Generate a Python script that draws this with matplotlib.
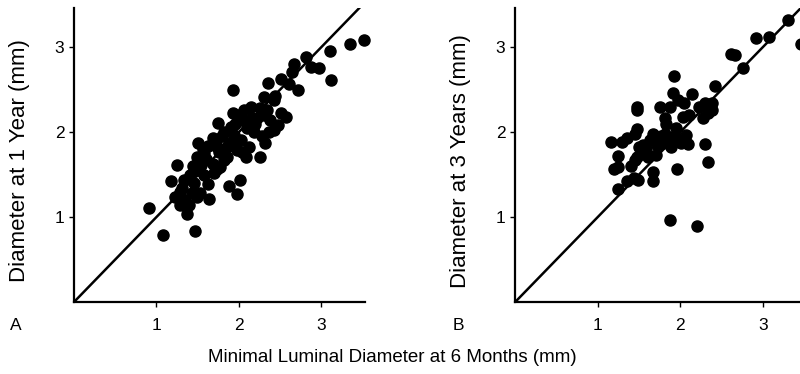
import matplotlib.pyplot as plt

plt.rcParams['font.family'] = ['Liberation Sans', 'DejaVu Sans']

# panel A: 6 months vs 1 year (mm)
a_x = [0.91, 1.08, 1.47, 1.25, 1.18, 1.23, 1.28, 1.37, 1.39, 1.43, 1.49, 1.53, 1.64, 1.63,
       1.31, 1.33, 1.41, 1.47, 1.49, 1.50, 1.62, 1.58, 1.54, 1.68, 1.70, 1.75, 1.74, 1.82,
       1.85, 1.86, 1.77, 1.88, 1.98, 2.01, 1.93, 1.93, 1.98, 2.04, 1.94, 1.94, 2.02, 1.98,
       2.04, 2.12, 2.09, 2.15, 2.16, 2.18, 2.26, 2.28, 2.32, 2.22, 2.26, 2.31, 2.35, 2.34,
       2.38, 2.42, 2.44, 2.36, 2.42, 2.48, 2.51, 2.57, 2.51, 2.61, 2.67, 2.65, 2.72, 2.81,
       2.88, 2.97, 3.10, 3.12, 3.35, 3.52, 1.68, 1.76, 1.82, 1.74, 1.88, 1.90, 2.06, 1.58,
       1.45, 1.35, 1.56, 1.72, 1.80, 2.10, 2.20, 1.60, 1.95, 2.30, 1.44, 1.28]
a_y = [1.11, 0.79, 0.83, 1.61, 1.42, 1.24, 1.14, 1.03, 1.14, 1.28, 1.24, 1.28, 1.21, 1.39,
       1.34, 1.44, 1.50, 1.54, 1.71, 1.87, 1.84, 1.75, 1.61, 1.63, 1.52, 2.11, 1.83, 2.00,
       1.83, 1.71, 1.59, 1.36, 1.27, 1.44, 2.50, 2.22, 2.20, 2.14, 1.96, 1.89, 1.91, 1.79,
       1.77, 1.83, 1.71, 2.30, 2.16, 2.00, 1.71, 1.95, 1.87, 2.17, 2.28, 2.41, 2.58, 2.26,
       2.14, 2.38, 2.43, 2.00, 2.02, 2.08, 2.22, 2.18, 2.62, 2.57, 2.80, 2.71, 2.50, 2.88,
       2.77, 2.76, 2.96, 2.61, 3.04, 3.08, 1.93, 1.77, 1.67, 1.57, 1.87, 2.06, 2.26, 1.50,
       1.40, 1.20, 1.80, 1.90, 1.95, 2.05, 2.10, 1.68, 2.10, 2.20, 1.60, 1.30]

# panel B: 6 months vs 3 years (mm)
b_x = [1.16, 1.24, 1.20, 1.25, 1.25, 1.35, 1.29, 1.35, 1.45, 1.48, 1.48, 1.48, 1.47, 1.45,
       1.49, 1.44, 1.53, 1.55, 1.61, 1.63, 1.67, 1.67, 1.67, 1.71, 1.75, 1.81, 1.83, 1.87,
       1.92, 1.91, 1.81, 1.79, 1.85, 1.89, 1.91, 1.93, 1.96, 1.87, 2.20, 1.97, 2.04, 2.01,
       2.09, 2.07, 2.03, 2.10, 2.14, 2.23, 2.27, 2.30, 2.33, 2.39, 2.30, 2.33, 2.42, 2.39,
       2.61, 2.66, 2.76, 2.92, 3.07, 3.31, 3.46, 1.58, 1.72, 1.95, 2.00, 1.50, 1.40, 1.77]
b_y = [1.88, 1.72, 1.57, 1.59, 1.33, 1.42, 1.88, 1.93, 1.98, 2.04, 2.30, 2.26, 1.71, 1.67,
       1.44, 1.46, 1.79, 1.85, 1.71, 1.91, 1.98, 1.53, 1.42, 1.73, 2.30, 2.16, 2.10, 2.30,
       2.66, 2.46, 1.98, 1.87, 1.93, 1.83, 1.89, 1.95, 1.57, 0.97, 0.90, 2.38, 2.34, 1.87,
       1.86, 1.96, 2.18, 2.20, 2.45, 2.30, 2.16, 2.34, 2.22, 2.26, 1.86, 1.65, 2.54, 2.34,
       2.92, 2.91, 2.75, 3.11, 3.12, 3.32, 3.04, 1.80, 1.85, 2.05, 1.90, 1.82, 1.60, 1.95]

ticks = [1, 2, 3]

fig = plt.figure(figsize=(8, 3.74), dpi=100)
ax1 = fig.add_axes([0.0925, 0.1925, 0.3638, 0.786])
ax2 = fig.add_axes([0.644, 0.1925, 0.356, 0.786])

panels = [(ax1, a_x, a_y, 'Diameter at 1 Year (mm)', 3.53, 'A', -0.186),
          (ax2, b_x, b_y, 'Diameter at 3 Years (mm)', 3.45, 'B', -0.193)]

for ax, xs, ys, ylab, xmax, letter, lx in panels:
    ax.plot([0, 3.6], [0, 3.6], color='black', lw=1.8, zorder=2)
    ax.plot(xs, ys, 'o', color='black', ms=8, mec='black', clip_on=False, zorder=3)
    ax.set_xlim(0, xmax)
    ax.set_ylim(0, 3.46)
    ax.set_xticks(ticks)
    ax.set_yticks(ticks)
    ax.spines['top'].set_visible(False)
    ax.spines['right'].set_visible(False)
    ax.spines['left'].set_linewidth(1.6)
    ax.spines['bottom'].set_linewidth(1.6)
    ax.tick_params(axis='x', pad=8)
    ax.tick_params(direction='out', length=3.5, width=1, labelsize=12.5)
    ax.set_ylabel(ylab, fontsize=16, va='center')
    ax.yaxis.set_label_coords(lx, 0.48)
    ax.text(-0.2, -0.08, letter, transform=ax.transAxes, fontsize=12.5,
            va='center', ha='center')

fig.text(0.491, 0.045, 'Minimal Luminal Diameter at 6 Months (mm)', fontsize=13.5,
         ha='center', va='center')

fig.savefig('out.png', dpi=100)
